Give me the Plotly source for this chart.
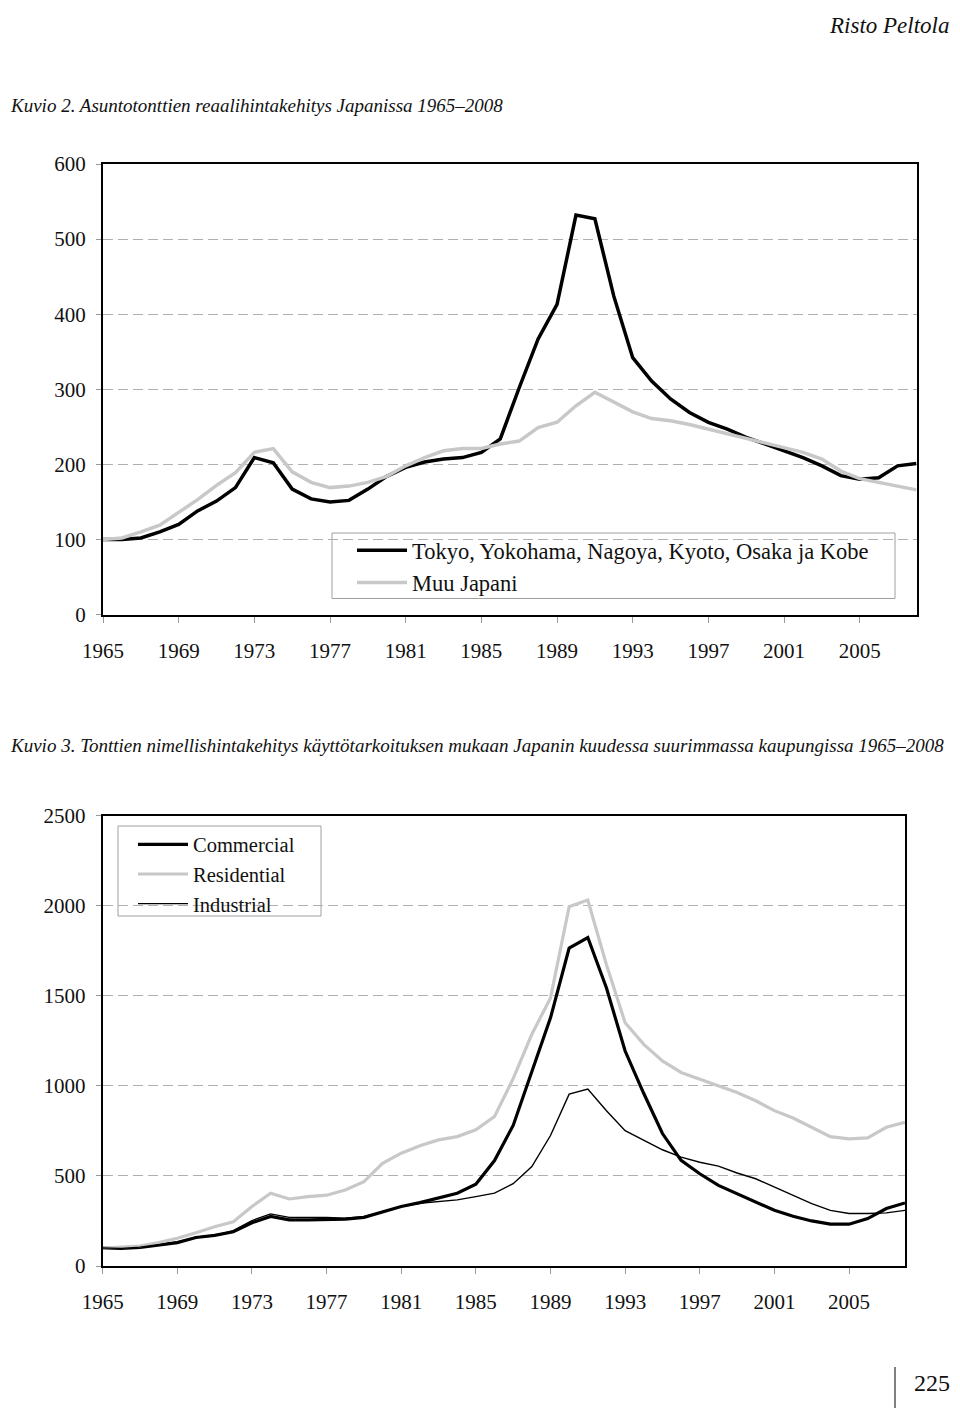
import plotly.graph_objects as go

years = list(range(1965, 2009))
tick_years = [1965, 1969, 1973, 1977, 1981, 1985, 1989, 1993, 1997, 2001, 2005]
tick_labels = ["1965", "1969", "1973", "1977", "1981", "1985", "1989", "1993", "1997", "2001", "2005"]

# Kuvio 2 (real price index, 1965 = 100)
big_cities = [100, 100, 102, 110, 120, 138, 151, 169, 209, 202,
              167, 154, 150, 152, 167, 184, 196, 203, 207, 209,
              216, 234, 302, 367, 413, 532, 527, 424, 342, 311,
              287, 269, 256, 247, 236, 227, 218, 209, 198, 185,
              180, 182, 198, 201]
rest_of_japan = [100, 102, 110, 119, 136, 153, 172, 189, 216, 221,
                 190, 176, 169, 171, 176, 184, 198, 209, 218, 221,
                 221, 227, 231, 249, 256, 278, 296, 283, 270, 261,
                 258, 253, 247, 241, 234, 229, 222, 216, 207, 191,
                 181, 176, 171, 166]

# Kuvio 3 (nominal price index, 1965 = 100)
commercial = [100, 97, 103, 115, 130, 158, 170, 190, 240, 275,
              256, 256, 256, 260, 270, 302, 330, 352, 376, 404,
              454, 585, 780, 1083, 1377, 1764, 1823, 1543, 1193, 957,
              735, 586, 512, 447, 402, 355, 309, 276, 250, 232,
              232, 263, 319, 350]
residential = [100, 105, 111, 130, 154, 185, 218, 246, 330, 404,
               372, 385, 393, 422, 468, 570, 626, 667, 700, 718,
               756, 830, 1040, 1286, 1488, 1994, 2031, 1672, 1350, 1230,
               1138, 1074, 1037, 1000, 963, 917, 862, 821, 770, 718,
               705, 711, 770, 797]
industrial = [100, 98, 105, 118, 133, 160, 170, 196, 252, 289,
              270, 270, 270, 265, 274, 302, 330, 348, 357, 367,
              385, 404, 457, 552, 724, 954, 982, 862, 751, 696,
              645, 604, 576, 554, 516, 484, 438, 392, 346, 309,
              291, 291, 295, 309]

# the page body has an 8px margin, so the figure sits at (8, 8);
# keep it inside the window so nothing overflows
OFF = 8
W, H = 960 - 2 * OFF, 1417 - 2 * OFF
FONT = "Liberation Serif"
GRAY = "#c8c8c8"


def px(x):
    return (x - OFF) / W


def py(y):
    return 1 - (y - OFF) / H


fig = go.Figure()

fig.add_trace(go.Scatter(x=years, y=big_cities, mode="lines", xaxis="x", yaxis="y",
                         name="Tokyo, Yokohama, Nagoya, Kyoto, Osaka ja Kobe",
                         line=dict(color="#000000", width=3.5), legend="legend"))
fig.add_trace(go.Scatter(x=years, y=rest_of_japan, mode="lines", xaxis="x", yaxis="y",
                         name="Muu Japani",
                         line=dict(color=GRAY, width=3.5), legend="legend"))

fig.add_trace(go.Scatter(x=years, y=commercial, mode="lines", xaxis="x2", yaxis="y2",
                         name="Commercial", line=dict(color="#000000", width=3.2), legend="legend2"))
fig.add_trace(go.Scatter(x=years, y=residential, mode="lines", xaxis="x2", yaxis="y2",
                         name="Residential", line=dict(color=GRAY, width=3.2), legend="legend2"))
fig.add_trace(go.Scatter(x=years, y=industrial, mode="lines", xaxis="x2", yaxis="y2",
                         name="Industrial", line=dict(color="#000000", width=1.4), legend="legend2"))

tickfont = dict(family=FONT, size=21, color="#111")

xcommon = dict(range=[1965, 2008], tickmode="array", tickvals=tick_years, ticktext=tick_labels,
               showgrid=False, zeroline=False, showline=True, mirror=True, linecolor="#000",
               linewidth=2, ticks="outside", ticklen=6, tickcolor="#999", tickwidth=1,
               tickfont=tickfont, ticklabelstandoff=10, automargin=False)
ycommon = dict(showgrid=True, gridcolor="#b0b0b0", griddash="10px,5px", gridwidth=1,
               zeroline=False, showline=True, mirror=True, linecolor="#000", linewidth=2,
               ticks="outside", ticklen=5, tickcolor="#999", tickwidth=1,
               tickfont=tickfont, ticklabelstandoff=6, automargin=False)

fig.update_layout(
    width=W, height=H,
    autosize=False,
    margin=dict(l=0, r=0, t=0, b=0, pad=0, autoexpand=False),
    paper_bgcolor="white", plot_bgcolor="white",
    showlegend=True,
    xaxis=dict(domain=[px(103), px(916.5)], anchor="y", **xcommon),
    yaxis=dict(domain=[py(614.5), py(164)], anchor="x", range=[0, 600], dtick=100, **ycommon),
    xaxis2=dict(domain=[px(102.7), px(905)], anchor="y2", **xcommon),
    yaxis2=dict(domain=[py(1266), py(815.5)], anchor="x2", range=[0, 2500], dtick=500, **ycommon),
    legend=dict(x=px(352), y=py(529), xanchor="left", yanchor="top",
                bgcolor="rgba(0,0,0,0)", borderwidth=0, itemwidth=50,
                font=dict(family=FONT, size=22.5, color="#111"), tracegroupgap=0),
    legend2=dict(x=px(133), y=py(824.5), xanchor="left", yanchor="top",
                 bgcolor="rgba(0,0,0,0)", borderwidth=0, itemwidth=50,
                 font=dict(family=FONT, size=20.5, color="#111"), tracegroupgap=0),
)

shapes = [
    dict(type="rect", xref="paper", yref="paper", x0=px(332), x1=px(895), y0=py(598.5), y1=py(533),
         line=dict(color="#a0a0a0", width=1), fillcolor="white", layer="below"),
    dict(type="rect", xref="paper", yref="paper", x0=px(118), x1=px(321), y0=py(916), y1=py(826),
         line=dict(color="#a0a0a0", width=1), fillcolor="white", layer="below"),
    dict(type="line", xref="paper", yref="paper", x0=px(895), x1=px(895), y0=py(1367), y1=py(1408),
         line=dict(color="#000", width=1)),
]
fig.update_layout(shapes=shapes)

annotations = [
    dict(text="<i>Risto Peltola</i>", x=px(951), y=py(25), xanchor="right", yanchor="middle",
         font=dict(family=FONT, size=23, color="#111")),
    dict(text="<i>Kuvio 2. Asuntotonttien reaalihintakehitys Japanissa 1965–2008</i>",
         x=px(8), y=py(105), xanchor="left", yanchor="middle",
         font=dict(family=FONT, size=19, color="#111")),
    dict(text="<i>Kuvio 3. Tonttien nimellishintakehitys käyttötarkoituksen mukaan Japanin kuudessa suurimmassa kaupungissa 1965–2008</i>",
         x=px(8), y=py(745), xanchor="left", yanchor="middle",
         font=dict(family=FONT, size=19, color="#111")),
    dict(text="225", x=px(952), y=py(1383), xanchor="right", yanchor="middle",
         font=dict(family=FONT, size=24, color="#111")),
]
for a in annotations:
    a.update(xref="paper", yref="paper", showarrow=False)
fig.update_layout(annotations=annotations)

fig.write_html("out.html")
